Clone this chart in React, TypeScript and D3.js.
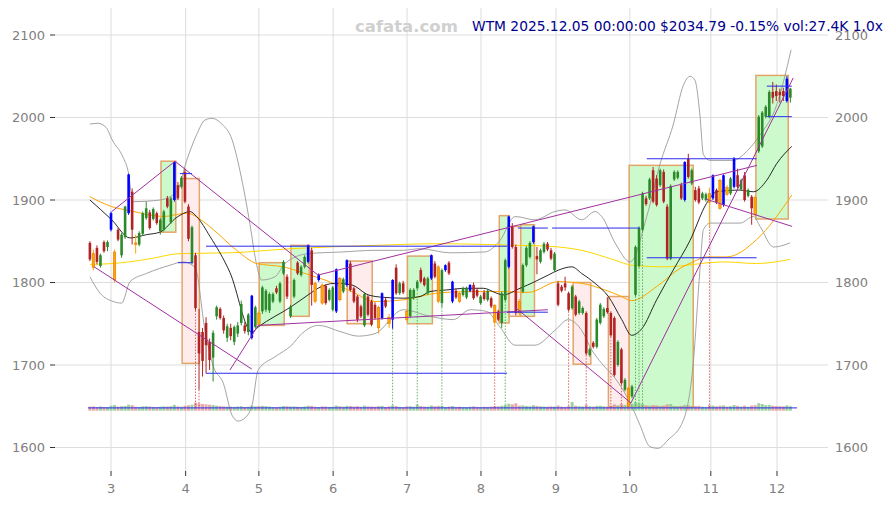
import React from 'react';
import * as d3 from 'd3';

// ---------- data ----------
const OPEN = [1848,1835,1842,1820,1849,1843,1864,1803,1864,1833,1855,1884,1910,1848,1846,1859,1878,1885,1877,1884,1862,1864,1902,1873,1900,1918,1916,1934,1892,1824,1833,1740,1740,1751,1728,1709,1759,1768,1757,1733,1745,1728,1738,1751,1748,1740,1733,1746,1763,1765,1767,1766,1777,1793,1777,1811,1807,1759,1783,1824,1809,1819,1825,1839,1799,1803,1797,1796,1779,1767,1765,1805,1789,1797,1823,1793,1783,1771,1748,1783,1777,1773,1770,1757,1779,1758,1755,1818,1787,1799,1765,1759,1781,1793,1815,1805,1787,1805,1823,1819,1775,1815,1824,1777,1790,1787,1785,1782,1790,1797,1791,1775,1788,1779,1781,1772,1765,1751,1779,1819,1868,1843,1777,1789,1821,1831,1849,1832,1825,1837,1847,1839,1815,1799,1795,1799,1787,1769,1783,1763,1763,1763,1712,1727,1722,1751,1759,1769,1763,1757,1700,1719,1670,1672,1662,1785,1820,1864,1902,1902,1936,1926,1918,1934,1892,1829,1925,1927,1918,1900,1950,1920,1912,1914,1902,1900,1908,1902,1912,1924,1894,1915,1908,1916,1930,1913,1930,1905,1904,1903,1959,1965,2001,2001,2031,2032,2031,2032,2020,2024];
const HIGH = [1850,1840,1845,1835,1851,1851,1886,1840,1866,1860,1893,1932,1914,1858,1862,1886,1898,1888,1891,1886,1878,1888,1905,1904,1947,1922,1929,1938,1895,1869,1836,1768,1745,1758,1732,1742,1772,1770,1760,1750,1750,1748,1752,1778,1752,1763,1785,1772,1766,1796,1792,1788,1788,1796,1801,1827,1810,1773,1805,1826,1821,1833,1846,1842,1801,1811,1799,1798,1793,1796,1817,1807,1806,1828,1826,1795,1785,1773,1788,1785,1779,1776,1772,1788,1782,1762,1804,1822,1801,1802,1767,1793,1793,1803,1818,1807,1807,1834,1826,1821,1817,1822,1826,1802,1793,1789,1795,1795,1798,1800,1793,1785,1791,1792,1783,1774,1767,1789,1829,1881,1872,1846,1780,1823,1844,1850,1869,1843,1841,1849,1849,1842,1837,1802,1797,1807,1789,1797,1785,1779,1771,1765,1721,1729,1757,1775,1770,1782,1765,1759,1730,1721,1684,1674,1676,1845,1868,1910,1905,1927,1940,1930,1938,1937,1895,1919,1936,1936,1921,1947,1956,1938,1916,1917,1910,1909,1915,1931,1914,1926,1931,1918,1928,1952,1938,1926,1934,1914,1906,1905,2003,2008,2015,2033,2043,2040,2035,2036,2050,2036];
const LOW = [1826,1815,1822,1818,1836,1838,1862,1800,1850,1830,1853,1882,1846,1835,1844,1857,1876,1864,1875,1870,1858,1862,1890,1871,1898,1900,1914,1896,1850,1822,1766,1670,1686,1690,1694,1680,1755,1755,1738,1728,1730,1724,1734,1748,1738,1736,1731,1744,1747,1762,1764,1763,1775,1786,1775,1809,1780,1757,1781,1809,1807,1817,1823,1772,1775,1801,1773,1773,1777,1765,1763,1777,1787,1795,1789,1775,1752,1757,1746,1759,1747,1755,1738,1755,1769,1745,1744,1785,1785,1786,1753,1757,1779,1791,1799,1795,1785,1803,1805,1775,1770,1813,1809,1775,1780,1775,1783,1780,1788,1779,1782,1773,1778,1777,1769,1748,1753,1745,1777,1817,1841,1760,1760,1787,1819,1829,1847,1810,1823,1835,1838,1827,1813,1771,1788,1790,1765,1767,1759,1761,1761,1712,1710,1720,1720,1749,1757,1762,1734,1686,1698,1676,1668,1648,1660,1783,1818,1862,1893,1900,1896,1892,1916,1896,1827,1827,1923,1925,1900,1898,1926,1918,1898,1895,1900,1898,1868,1900,1895,1888,1892,1905,1906,1914,1914,1911,1898,1903,1870,1880,1957,1963,1999,1999,2017,2020,2018,2020,2018,2018];
const CLOSE = [1828,1818,1825,1833,1838,1849,1884,1837,1852,1858,1892,1931,1864,1846,1860,1884,1890,1866,1889,1872,1876,1886,1892,1902,1946,1902,1927,1898,1853,1867,1769,1714,1705,1724,1706,1739,1770,1757,1742,1747,1735,1746,1748,1774,1741,1761,1784,1770,1749,1794,1790,1786,1786,1788,1799,1825,1783,1771,1803,1811,1819,1831,1845,1797,1777,1809,1775,1775,1791,1794,1816,1779,1804,1827,1791,1777,1755,1759,1786,1761,1749,1757,1745,1787,1771,1750,1803,1787,1799,1788,1755,1791,1791,1801,1801,1797,1805,1833,1807,1777,1815,1821,1811,1801,1782,1777,1793,1793,1797,1781,1784,1783,1780,1790,1771,1752,1755,1787,1827,1880,1843,1763,1763,1821,1842,1848,1868,1828,1839,1847,1840,1829,1835,1773,1790,1794,1767,1795,1761,1777,1769,1714,1719,1722,1755,1773,1768,1764,1736,1688,1728,1678,1682,1650,1674,1843,1866,1908,1895,1925,1898,1894,1936,1898,1829,1917,1934,1934,1902,1946,1928,1936,1900,1897,1908,1907,1897,1930,1897,1890,1930,1907,1926,1950,1916,1924,1900,1912,1890,1882,2001,2006,2013,2031,2024,2026,2027,2026,2047,2035];
const VOLUME = [24,26,22,25,23,21,30,34,25,27,28,36,33,24,22,26,27,25,23,22,24,26,25,27,35,26,24,30,33,36,48,45,40,38,36,34,30,28,26,25,24,23,25,27,22,24,30,26,28,29,27,25,22,21,24,28,27,25,26,24,23,25,30,29,24,22,26,25,23,24,31,27,24,29,28,25,27,24,30,26,25,24,27,29,22,26,32,28,23,21,26,27,24,36,28,25,24,31,27,29,30,22,25,28,23,24,22,21,24,26,23,22,24,23,25,28,26,30,34,42,38,44,30,32,28,27,33,29,26,25,24,26,25,31,24,23,28,52,30,27,25,36,27,24,29,30,26,25,31,38,33,40,35,48,42,50,44,41,33,30,34,32,29,31,38,40,28,26,29,35,33,27,28,29,24,23,33,31,26,30,32,25,27,34,29,25,30,24,31,33,45,40,33,35,30,28,27,26,32,27];
const ORANGE_IDX = [1,7,13,48,64,66,71,82,85,90,99,105,115,122,153,176,179,181,189];
const BLUE_IDX = [6,11,24,46,62,65,70,73,83,86,97,101,103,108,119,126,169,177,180,183,198];

const X_TICK_IDX = [6,27.2,48,69.1,90.1,111.1,132.4,153.4,176.4,195.2];
const X_TICK_LABELS = ['3','4','5','6','7','8','9','10','11','12'];
const Y_TICKS = [1600,1700,1800,1900,2000,2100];

const MA_BLACK: [number, number][] = [[0,1900],[6.2,1876],[11.4,1854],[16.1,1858],[19.9,1861],[24.7,1879],[28.4,1886],[30.3,1880],[34.1,1856],[39.8,1812],[46,1740],[47.8,1746],[57.3,1771],[62,1785],[64.8,1793],[69.6,1799],[74.4,1797],[79.1,1785],[83.4,1782],[89,1781],[93.8,1783],[96.6,1789],[101.4,1791],[107,1793],[111.8,1793],[115.6,1787],[117.4,1785],[122.2,1793],[126.4,1801],[130.2,1809],[133.1,1815],[136.9,1819],[139.7,1811],[143.5,1799],[147.3,1783],[151.1,1755],[153.9,1736],[156.8,1744],[161,1779],[165.7,1815],[170.5,1851],[175.2,1896],[178.1,1910],[184.7,1912],[188.5,1910],[192.3,1924],[195.1,1944],[199.4,1965]];
const MA_ORANGE: [number, number][] = [[0,1904],[6.2,1892],[11.4,1887],[20.9,1880],[27.5,1884],[32.2,1874],[35.1,1864],[41.7,1839],[47.4,1823],[54.9,1819],[62.5,1809],[66.8,1803],[74.4,1789],[81,1777],[89,1779],[98.5,1787],[108,1789],[117.4,1789],[124.5,1788],[133.1,1801],[139.7,1799],[146.3,1791],[151.1,1783],[153.9,1778],[161,1795],[167.6,1817],[171.4,1825],[175.2,1831],[180.9,1831],[189.4,1852],[199.4,1906]];
const MA_YELLOW: [number, number][] = [[0,1822],[6.6,1823],[16.1,1828],[25.6,1835],[39.8,1836],[57.3,1841],[81,1845],[98.5,1847],[122.2,1845],[130.2,1844],[139.7,1839],[149.2,1827],[153.9,1821],[163.4,1819],[179.9,1825],[189.4,1823],[198.9,1828]];
const BAND_UPPER: [number, number][] = [[0,1992],[2.3,1993],[4.6,1988],[6.3,1973],[9.4,1952],[10.8,1936],[12.3,1898],[19.9,1900],[24.7,1910],[27.5,1948],[30.3,1979],[32.7,1997],[34.7,1999],[37.5,1992],[40.4,1973],[42.6,1936],[45.5,1870],[47.2,1825],[48.8,1803],[52.6,1807],[55.4,1823],[62,1835],[71.5,1837],[81,1839],[89,1839],[93.8,1841],[102.3,1836],[112.2,1837],[116.5,1851],[120.8,1880],[126.4,1876],[132.1,1886],[135,1888],[139.7,1876],[143.5,1886],[145.4,1880],[149.2,1848],[153.5,1825],[158.2,1880],[162,1944],[165.7,1991],[168.6,2039],[170.5,2050],[171.9,2045],[173.3,2003],[174.3,1955],[176.2,1948],[182.8,1948],[186.6,1959],[190.4,1979],[195.1,2015],[199.2,2082]];
const BAND_LOWER: [number, number][] = [[0,1807],[2.9,1787],[6.6,1777],[9,1775],[11.4,1801],[16.1,1811],[22.8,1821],[26.5,1825],[29.9,1818],[32.7,1742],[35.1,1698],[37.9,1678],[40.4,1639],[42.1,1632],[44.1,1636],[46.1,1652],[47.8,1694],[52.6,1710],[57.3,1724],[60.2,1738],[64.9,1748],[71.5,1740],[76.2,1735],[81,1738],[89,1767],[96.6,1759],[103.2,1755],[108,1767],[112.7,1765],[116.5,1746],[120.8,1724],[126.4,1724],[132.1,1742],[135.9,1755],[139.7,1742],[142.6,1718],[145.4,1702],[149.2,1684],[153.5,1654],[156.3,1627],[159.1,1601],[161.4,1599],[164.2,1609],[168.6,1633],[171.4,1702],[173.3,1815],[174.3,1864],[176.2,1872],[184.7,1872],[188.5,1880],[190.4,1868],[194.2,1843],[198.9,1848]];

// trend lines: [idx1, val1, idx2, val2]
const TRENDS: [number, number, number, number][] = [
  [1.2,1819,46,1695],
  [39.8,1694,47.8,1748],
  [47.8,1748,130.1,1767],
  [6.2,1886,24.2,1947],
  [24.2,1947,64.8,1809],
  [64.8,1809,189.5,1942],
  [120.8,1770,153.7,1654],
  [153.7,1654,199.8,2048],
  [175,1901,199.5,1868],
];
// horizontal levels: [idx1, idx2, value]
const LEVELS: [number, number, number][] = [
  [25.6,29,1932],[25,29.3,1824],[33,118.5,1844],[33,118.5,1690],[118.5,130.1,1764],
  [121.6,130.1,1866],[131.3,156.3,1866],[158.2,189.4,1950],[158.2,189.4,1830],
  [192.3,199.4,2038],[192.3,199.4,2001],[-0.5,200.9,1648],
];
// zones: [idx1, idx2, top, bottom, up(1)/down(0)]
const ZONES: [number, number, number, number, number][] = [
  [20.2,24.4,1947,1861,1],[26.2,31.1,1926,1702,0],[48.1,55.2,1824,1748,1],[57.1,62.3,1845,1759,1],
  [73.1,80.2,1826,1750,0],[90.2,97.3,1832,1750,1],[116.3,119.1,1881,1751,1],[119.1,122.4,1868,1759,0],
  [122.4,126.3,1870,1759,1],[137.3,142.3,1800,1701,0],[147.3,153.2,1783,1649,0],[153.2,171.4,1942,1649,1],
  [189.2,198.4,2051,1877,1],
];
const SIGNALS_DOWN = [30,31,115,136,141,148,151,176];
const SIGNALS_UP = [86,93,100,118,155,156,157];

const TITLE = 'WTM 2025.12.05 00:00:00 $2034.79 -0.15% vol:27.4K 1.0x';
const WATERMARK = 'cafata.com';

export default function App() {
  const W = 892, H = 505;
  const left = 55, right = 828, top = 8, bottom = 471;
  const x = d3.scaleLinear().domain([0, 199]).range([89.9, 89.9 + 199 * 3.52]);
  const y = d3.scaleLinear().domain([1600, 2100]).range([447.5, 35]);
  const vScale = d3.scaleLinear().domain([0, 60]).range([0, 10]);
  const volBase = y(1644.6);
  const line = d3.line<[number, number]>().x(d => x(d[0])).y(d => y(d[1])).curve(d3.curveMonotoneX);
  const font = '"DejaVu Sans", sans-serif';
  const cw = 2.6;
  const GREEN = '#2a8a2a', RED = '#b22222', ORANGE = '#ffa500', BLUE = '#0000ff';

  const candleColor = (i: number) => {
    if (BLUE_IDX.includes(i)) return BLUE;
    if (ORANGE_IDX.includes(i)) return ORANGE;
    return CLOSE[i] >= OPEN[i] ? GREEN : RED;
  };

  return (
    <svg width={W} height={H} style={{ position: 'absolute', left: 0, top: 0, background: '#fff' }}>
      {/* grid */}
      {Y_TICKS.map(t => (
        <g key={'y' + t}>
          <line x1={left} x2={right} y1={y(t)} y2={y(t)} stroke="#dddddd" strokeWidth={1} />
          <line x1={50} x2={55} y1={y(t)} y2={y(t)} stroke="#333" strokeWidth={1} />
          <text x={45} y={y(t)} dy="0.35em" textAnchor="end" fontFamily={font} fontSize={13} fill="#808080">{t}</text>
          <text x={835} y={y(t)} dy="0.35em" textAnchor="start" fontFamily={font} fontSize={13} fill="#808080">{t}</text>
        </g>
      ))}
      {X_TICK_IDX.map((t, k) => (
        <g key={'x' + k}>
          <line x1={x(t)} x2={x(t)} y1={top} y2={bottom} stroke="#dddddd" strokeWidth={1} />
          <line x1={x(t)} x2={x(t)} y1={bottom} y2={bottom + 5} stroke="#333" strokeWidth={1} />
          <text x={x(t)} y={493} textAnchor="middle" fontFamily={font} fontSize={13} fill="#808080">{X_TICK_LABELS[k]}</text>
        </g>
      ))}

      {/* zones */}
      {ZONES.map((z, k) => (
        <rect key={'z' + k} x={x(z[0])} y={y(z[2])} width={x(z[1]) - x(z[0])} height={y(z[3]) - y(z[2])}
          fill={z[4] ? '#ccfacc' : '#fdeceb'} stroke="#e2a56a" strokeWidth={1.5} />
      ))}

      {/* volume */}
      {VOLUME.map((v, i) => (
        <rect key={'v' + i} x={x(i) - 1.5} y={volBase - vScale(v)} width={3} height={vScale(v)}
          fill={CLOSE[i] >= OPEN[i] ? '#8cc98c' : '#e09a9a'} opacity={0.85} />
      ))}

      {/* bands and MAs */}
      <path d={line(BAND_UPPER) || ''} fill="none" stroke="#999" strokeWidth={0.9} />
      <path d={line(BAND_LOWER) || ''} fill="none" stroke="#999" strokeWidth={0.9} />
      <path d={line(MA_YELLOW) || ''} fill="none" stroke="#ffd700" strokeWidth={1} />
      <path d={line(MA_ORANGE) || ''} fill="none" stroke="#ffa500" strokeWidth={1} />
      <path d={line(MA_BLACK) || ''} fill="none" stroke="#111" strokeWidth={0.9} />

      {/* signal dotted lines */}
      {SIGNALS_DOWN.map(i => (
        <line key={'sd' + i} x1={x(i)} x2={x(i)} y1={y(LOW[i])} y2={y(1648)} stroke="#d04040" strokeWidth={0.8} strokeDasharray="1.5,1.5" />
      ))}
      {SIGNALS_UP.map(i => (
        <line key={'su' + i} x1={x(i)} x2={x(i)} y1={y(LOW[i])} y2={y(1648)} stroke="#40a040" strokeWidth={0.8} strokeDasharray="1.5,1.5" />
      ))}

      {/* candles */}
      {OPEN.map((o, i) => {
        const c = CLOSE[i];
        const col = candleColor(i);
        const yt = y(Math.max(o, c));
        const yb = y(Math.min(o, c));
        return (
          <g key={'c' + i}>
            <line x1={x(i)} x2={x(i)} y1={y(HIGH[i])} y2={y(LOW[i])} stroke={col} strokeWidth={1} />
            <rect x={x(i) - cw / 2} y={yt} width={cw} height={Math.max(1, yb - yt)} fill={col}
              stroke={ORANGE_IDX.includes(i) ? '#e06000' : 'none'} strokeWidth={0.4} />
          </g>
        );
      })}

      {/* trend lines */}
      {TRENDS.map((t, k) => (
        <line key={'t' + k} x1={x(t[0])} y1={y(t[1])} x2={x(t[2])} y2={y(t[3])} stroke="#a030a0" strokeWidth={1} />
      ))}
      {/* levels */}
      {LEVELS.map((l, k) => (
        <line key={'l' + k} x1={x(l[0])} x2={x(l[1])} y1={y(l[2])} y2={y(l[2])} stroke="#2a2aee" strokeWidth={1} />
      ))}

      {/* title */}
      <text x={355} y={32} fontFamily={font} fontSize={16.5} fontWeight="bold" fill="#d0d0d0">{WATERMARK}</text>
      <text x={472} y={31} fontFamily={font} fontSize={13.8} fill="#00008b">{TITLE}</text>
    </svg>
  );
}
